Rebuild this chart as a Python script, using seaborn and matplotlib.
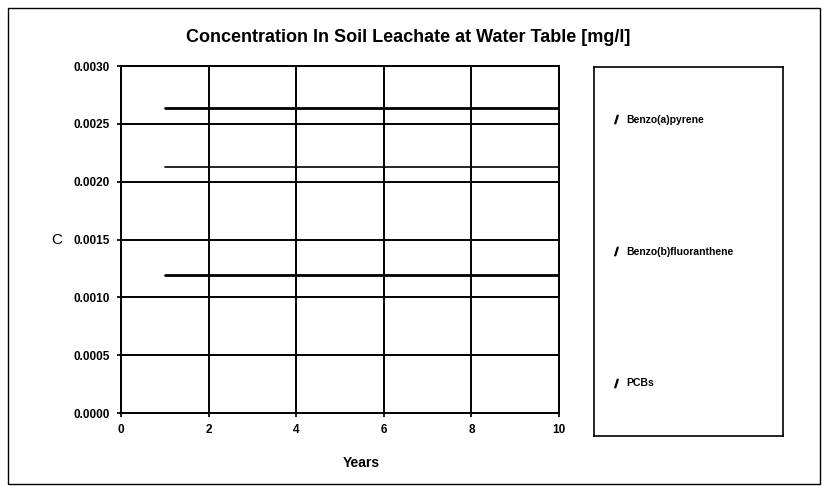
import matplotlib
matplotlib.use("Agg")
import matplotlib.pyplot as plt
from matplotlib.lines import Line2D
from matplotlib.patches import Rectangle
import seaborn as sns
import pandas as pd

# values (constant concentrations, years 1-10)
years = [1, 2, 3, 4, 5, 6, 7, 8, 9, 10]
series_names = ["Benzo(a)pyrene", "Benzo(b)fluoranthene", "PCBs"]
benzo_a = [0.00264] * 10
benzo_b = [0.00213] * 10
pcbs = [0.00119] * 10
y_ticks = [0.0, 0.0005, 0.0010, 0.0015, 0.0020, 0.0025, 0.0030]
x_ticks = [0, 2, 4, 6, 8, 10]

df = pd.DataFrame({
    "Years": years * 3,
    "C": benzo_a + benzo_b + pcbs,
    "Series": [n for n in series_names for _ in years],
})

sns.set_theme(style="white", rc={"text.color": "black", "axes.labelcolor": "black",
                                 "xtick.color": "black", "ytick.color": "black"})
plt.rcParams["font.family"] = ["Liberation Sans", "DejaVu Sans"]

fig = plt.figure(figsize=(8.28, 4.86), dpi=100)
fig.patch.set_facecolor("white")
fig.patches.append(Rectangle((8 / 828, 2 / 486), 812 / 828, 476 / 486,
                             transform=fig.transFigure, fill=False,
                             edgecolor="black", linewidth=1.0))

ax = fig.add_axes([121 / 828, 1 - 413 / 486, 438 / 828, 347 / 486])
widths = {"Benzo(a)pyrene": 2.0, "Benzo(b)fluoranthene": 1.2, "PCBs": 2.0}
for name in series_names:
    sns.lineplot(data=df[df["Series"] == name], x="Years", y="C", ax=ax,
                 color="black", linewidth=widths[name], legend=False)

ax.set_xlim(0, 10)
ax.set_ylim(0, 0.003)
ax.set_xticks(x_ticks)
ax.set_yticks(y_ticks)
ax.set_yticklabels([f"{v:.4f}" for v in y_ticks])
ax.grid(True, color="black", linewidth=1.4)
ax.set_axisbelow(True)
for s in ax.spines.values():
    s.set_color("black")
    s.set_linewidth(1.4)
ax.tick_params(axis="both", labelsize=8.5, length=3, color="black",
               direction="out", left=True, bottom=True, pad=5)
for lab in ax.get_xticklabels() + ax.get_yticklabels():
    lab.set_fontweight("bold")
ax.set_xlabel("Years", fontsize=10, fontweight="bold")
ax.xaxis.set_label_coords(240 / 438, -43 / 347)
ax.set_ylabel("C", fontsize=11, rotation=0, va="center")
ax.yaxis.set_label_coords(-64 / 438, 0.5)

fig.text(408 / 828, 1 - 37 / 486,
         "Concentration In Soil Leachate at Water Table [mg/l]",
         ha="center", va="center", fontsize=13, fontweight="bold")

# legend box on its own axes
lax = fig.add_axes([594 / 828, 1 - 436 / 486, 189 / 828, 369 / 486])
lax.set_xticks([])
lax.set_yticks([])
for s in lax.spines.values():
    s.set_color("black")
    s.set_linewidth(1.2)
handles = [Line2D([0], [0], color="black", linestyle="none",
                  marker=r"$/$", markersize=6) for n in series_names]
lax.legend(handles, series_names, loc="center left", frameon=False,
           labelspacing=11.7, handlelength=0.8, handletextpad=0.6,
           prop={"weight": "bold", "size": 7.5},
           borderaxespad=1.3)

fig.savefig("out.png", dpi=100, facecolor="white")
